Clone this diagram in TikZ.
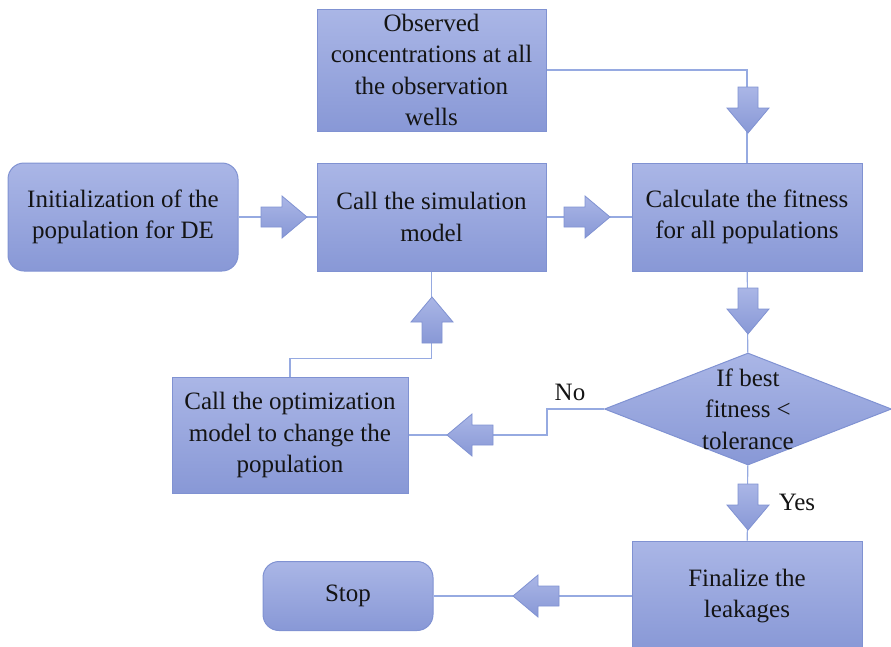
\documentclass[tikz,border=0pt]{standalone}
\usepackage{fontspec}
\setmainfont{Liberation Serif}
\usetikzlibrary{shapes.geometric}
\definecolor{boxtop}{RGB}{170,182,230}
\definecolor{boxbot}{RGB}{136,152,214}
\definecolor{boxline}{RGB}{128,146,210}
\definecolor{wireblue}{RGB}{150,170,225}
\definecolor{inktext}{RGB}{20,20,20}
\tikzset{
  flowtext/.style={font=\fontsize{25}{31.5}\selectfont, text=inktext, align=center},
  stepbox/.style={flowtext, draw=boxline, line width=1pt, top color=boxtop, bottom color=boxbot,
    minimum width=229pt, minimum height=108pt, inner sep=0pt},
  roundbox/.style={stepbox, rounded corners=16pt},
  decision/.style={diamond, draw=boxline, line width=1pt, top color=boxtop, bottom color=boxbot,
    minimum width=287pt, minimum height=112pt, inner sep=0pt},
  wire/.style={draw=wireblue, line width=1.2pt},
  blockarrow/.pic={\path[draw=boxline, line width=0.8pt, top color=boxtop, bottom color=boxbot]
    (-23,-10) -- (-2,-10) -- (-2,-21) -- (23,0) -- (-2,21) -- (-2,10) -- (-23,10) -- cycle;}
}
\begin{document}
\begin{tikzpicture}[x=1pt,y=-1pt]
        \useasboundingbox (0,0) rectangle (891,646);
        % boxes
        \node[stepbox, minimum height=122pt] (obs) at (431.5,70) {Observed\\concentrations at all\\the observation\\wells};
        \node[roundbox, minimum width=230pt] (init) at (123,217) {Initialization of the\\population for DE};
        \node[stepbox] (sim) at (431.5,217) {Call the simulation\\model};
        \node[stepbox, minimum width=230pt] (calc) at (747,217) {Calculate the fitness\\for all populations};
        \node[decision] (test) at (748,409) {};
        \node[flowtext] (testtext) at (test) {If best\\fitness <\\tolerance};
        \node[stepbox, minimum width=236pt, minimum height=116pt] (opt) at (290,435) {Call the optimization\\model to change the\\population};
        \node[stepbox, minimum width=230pt, minimum height=110pt] (fin) at (747,596) {Finalize the\\leakages};
        \node[roundbox, minimum width=170pt, minimum height=69pt] (stop) at (348,596) {Stop};
        \node[flowtext] (nolabel) at (570,392) {No};
        \node[flowtext] (yeslabel) at (797,502) {Yes};
        % connectors
        \draw[wire] (obs.east) -| (calc.north);
        \draw[wire] (init) -- (sim);
        \draw[wire] (sim) -- (calc);
        \draw[wire] (calc) -- (test);
        \draw[wire] (test.west) -- ++(-57,0) |- (opt.east);
        \draw[wire] (opt.north) -- ++(0,-18) -| (sim.south);
        \draw[wire] (test) -- (fin);
        \draw[wire] (fin) -- (stop);
        % block arrows
        \pic[rotate=-90] at (748,110) {blockarrow};
        \pic at (284,217) {blockarrow};
        \pic at (587,217) {blockarrow};
        \pic[rotate=-90] at (748,311) {blockarrow};
        \pic[rotate=180] at (470,435) {blockarrow};
        \pic[rotate=90] at (432,320) {blockarrow};
        \pic[rotate=-90] at (748,507) {blockarrow};
        \pic[rotate=180] at (536,596) {blockarrow};
\end{tikzpicture}
\end{document}
